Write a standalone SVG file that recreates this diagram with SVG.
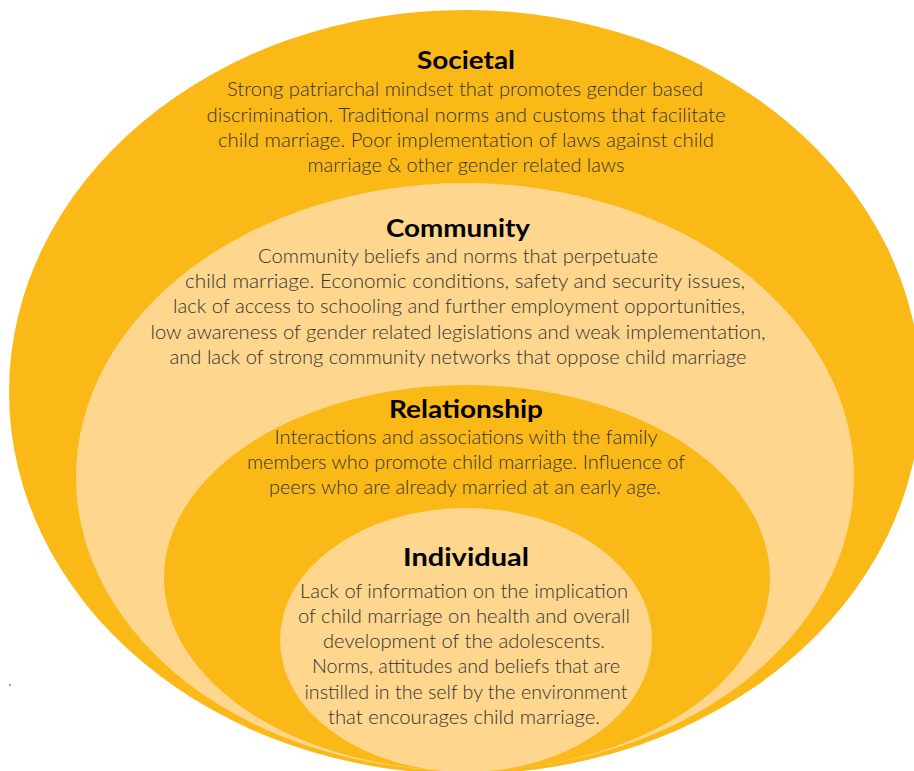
<svg xmlns="http://www.w3.org/2000/svg" width="914" height="771" viewBox="0 0 914 771">
  <style>
    .ring-dark { fill: #FBB917; }
    .ring-light { fill: #FED68D; }
    .title { font-family: Lato, "Liberation Sans", sans-serif; font-weight: 700; font-size: 25px; fill: #000000; text-anchor: middle; }
    .body { font-family: Lato, "Liberation Sans", sans-serif; font-weight: 300; font-size: 19.5px; fill: #333333; text-anchor: middle; }
  </style>
  <rect width="914" height="771" fill="#FFFFFF"/>

  <!-- outermost layer -->
  <g id="societal">
    <ellipse class="ring-dark" cx="465" cy="392" rx="456" ry="382"/>
    <text class="title" x="466" y="69" textLength="98" lengthAdjust="spacingAndGlyphs">Societal</text>
    <text class="body" x="465" y="96" textLength="476" lengthAdjust="spacingAndGlyphs">Strong patriarchal mindset that promotes gender based</text>
    <text class="body" x="466" y="122" textLength="519" lengthAdjust="spacingAndGlyphs">discrimination. Traditional norms and customs that facilitate</text>
    <text class="body" x="466" y="147" textLength="496" lengthAdjust="spacingAndGlyphs">child marriage. Poor implementation of laws against child</text>
    <text class="body" x="466" y="172" textLength="317" lengthAdjust="spacingAndGlyphs">marriage &amp; other gender related laws</text>
  </g>

  <!-- second layer -->
  <g id="community">
    <ellipse class="ring-light" cx="465" cy="477" rx="389" ry="294"/>
    <text class="title" x="458" y="237" textLength="144" lengthAdjust="spacingAndGlyphs">Community</text>
    <text class="body" x="458" y="263" textLength="400" lengthAdjust="spacingAndGlyphs">Community beliefs and norms that perpetuate</text>
    <text class="body" x="465" y="288" textLength="560" lengthAdjust="spacingAndGlyphs">child marriage. Economic conditions, safety and security issues,</text>
    <text class="body" x="459" y="313" textLength="572" lengthAdjust="spacingAndGlyphs">lack of access to schooling and further employment opportunities,</text>
    <text class="body" x="458" y="339" textLength="615" lengthAdjust="spacingAndGlyphs">low awareness of gender related legislations and weak implementation,</text>
    <text class="body" x="458" y="364" textLength="577" lengthAdjust="spacingAndGlyphs">and lack of strong community networks that oppose child marriage</text>
  </g>

  <!-- third layer -->
  <g id="relationship">
    <ellipse class="ring-dark" cx="467" cy="578" rx="303" ry="193"/>
    <text class="title" x="466" y="418" textLength="154" lengthAdjust="spacingAndGlyphs">Relationship</text>
    <text class="body" x="466" y="444" textLength="383" lengthAdjust="spacingAndGlyphs">Interactions and associations with the family</text>
    <text class="body" x="466" y="469" textLength="438" lengthAdjust="spacingAndGlyphs">members who promote child marriage. Influence of</text>
    <text class="body" x="465" y="494" textLength="392" lengthAdjust="spacingAndGlyphs">peers who are already married at an early age.</text>
  </g>

  <!-- innermost layer -->
  <g id="individual">
    <ellipse class="ring-light" cx="466" cy="640" rx="186" ry="132"/>
    <text class="title" x="466" y="566" textLength="126" lengthAdjust="spacingAndGlyphs">Individual</text>
    <text class="body" x="464" y="598" textLength="328" lengthAdjust="spacingAndGlyphs">Lack of information on the implication</text>
    <text class="body" x="464" y="623" textLength="332" lengthAdjust="spacingAndGlyphs">of child marriage on health and overall</text>
    <text class="body" x="464" y="648" textLength="282" lengthAdjust="spacingAndGlyphs">development of the adolescents.</text>
    <text class="body" x="466" y="673" textLength="308" lengthAdjust="spacingAndGlyphs">Norms, attitudes and beliefs that are</text>
    <text class="body" x="466" y="699" textLength="323" lengthAdjust="spacingAndGlyphs">instilled in the self by the environment</text>
    <text class="body" x="464" y="724" textLength="272" lengthAdjust="spacingAndGlyphs">that encourages child marriage.</text>
  </g>

  <g id="connectors"/>

  <!-- stray mark at the left margin -->
  <rect x="9" y="684.5" width="2" height="1" fill="#555555"/>
</svg>
